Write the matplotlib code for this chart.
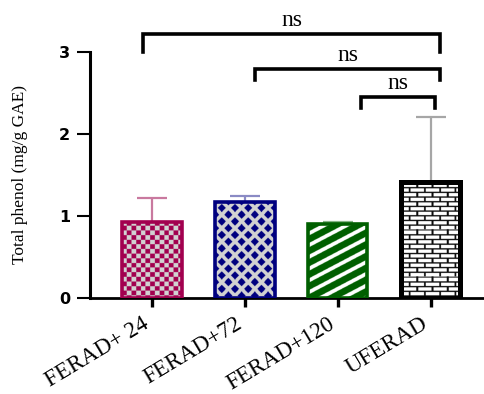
import numpy as np
import matplotlib
matplotlib.use('Agg')
import matplotlib.pyplot as plt
from matplotlib import transforms

# ---- data ----
categories = ['FERAD+ 24', 'FERAD+72', 'FERAD+120', 'UFERAD']
means = [0.93, 1.175, 0.90, 1.41]
sd_upper = [0.29, 0.07, 0.03, 0.80]
yticks = [0, 1, 2, 3]
comparisons = [(0, 3, 'ns'), (1, 3, 'ns'), (2, 3, 'ns')]

# ---- styles ----
edge_colors = ['#A2004F', '#00007F', '#005F00', '#000000']
err_colors = ['#C9799F', '#8A8AC4', '#86B386', '#A6A6A6']
patterns = ['checker', 'diamond', 'stripe', 'brick']
edge_lw = [2.6, 2.6, 2.6, 3.6]
grey = '#D2D2D2'

fig = plt.figure(figsize=(4.84, 3.94), dpi=100)
ax = fig.add_axes([90 / 484, 96 / 394, 393 / 484, 246 / 394])
ax.set_xlim(-0.667, 3.56)
ax.set_ylim(0, 3)
xpos = np.arange(len(categories))
bar_w = 0.635


def hex2rgb(h):
    h = h.lstrip('#')
    return np.array([int(h[i:i + 2], 16) / 255 for i in (0, 2, 4)])


def texture(kind, wpx, hpx, color, ss=3):
    W, H = max(int(round(wpx * ss)), 2), max(int(round(hpx * ss)), 2)
    j, i = np.meshgrid(np.arange(W) / ss, np.arange(H) / ss)
    c = hex2rgb(color)
    g = hex2rgb(grey)
    white = np.array([1.0, 1.0, 1.0])
    if kind == 'checker':
        cw, ch = 4.6, 4.6
        m = ((np.floor(j / cw) + np.floor(i / ch)) % 2) == 0
        img = np.where(m[..., None], g, c)
    elif kind == 'diamond':
        px, py = 13.0, 13.4
        t = 0.62
        dxa = np.abs((j % px) - px / 2) / (px / 2)
        dya = np.abs((i % py) - py / 2) / (py / 2)
        da = dxa + dya
        dxb = np.abs(((j + px / 2) % px) - px / 2) / (px / 2)
        dyb = np.abs(((i + py / 2) % py) - py / 2) / (py / 2)
        db = dxb + dyb
        m = np.minimum(da, db) < t
        img = np.where(m[..., None], c, g)
    elif kind == 'stripe':
        th = np.deg2rad(28)
        p = 11.7 * np.cos(th)
        u = -j * np.sin(th) - i * np.cos(th)
        m = ((u % p) / p) < 0.36
        img = np.where(m[..., None], white, c)
    else:  # brick
        rh, bw = 4.7, 15.0
        row = np.floor(i / rh)
        yin = i % rh
        off = (row % 2) * bw / 2
        xin = (j + off) % bw
        m = (yin < 1.3) | (xin < 1.8)
        img = np.where(m[..., None], np.array([0.05, 0.05, 0.05]), white)
    return img


# error bars (upper only)
for k in range(len(categories)):
    ax.errorbar(xpos[k], means[k], yerr=[[0], [sd_upper[k]]], fmt='none',
                ecolor=err_colors[k], elinewidth=1.6, capsize=11, capthick=1.6,
                zorder=1)

bars = ax.bar(xpos, means, width=bar_w, color=grey, linewidth=0, zorder=2)
for k, rect in enumerate(bars):
    x0, y0 = rect.get_x(), rect.get_y()
    x1, y1 = x0 + rect.get_width(), y0 + rect.get_height()
    p0 = ax.transData.transform((x0, y0))
    p1 = ax.transData.transform((x1, y1))
    img = texture(patterns[k], abs(p1[0] - p0[0]), abs(p1[1] - p0[1]), edge_colors[k])
    im = ax.imshow(img, extent=(x0, x1, y0, y1), aspect='auto', zorder=2.5,
                   interpolation='antialiased')
    im.set_clip_path(rect)
ax.bar(xpos, means, width=bar_w, fill=False, edgecolor=edge_colors,
       linewidth=edge_lw, zorder=3)
ax.set_xlim(-0.667, 3.56)
ax.set_ylim(0, 3)

# significance brackets
br_y = [3.22, 2.79, 2.45]
br_drop = [0.22, 0.13, 0.13]
br_dx = [(-0.10, 0.10), (0.11, 0.10), (0.25, 0.04)]
for (a, b, lab), yb, dr, (dl, drr) in zip(comparisons, br_y, br_drop, br_dx):
    xl, xr = xpos[a] + dl, xpos[b] + drr
    ax.plot([xl, xl, xr, xr], [yb - dr, yb, yb, yb - dr], color='black',
            lw=2.6, solid_joinstyle='miter', clip_on=False, zorder=4)
    ax.text((xl + xr) / 2, yb + 0.17, lab, ha='center', va='center',
            fontsize=17, family='Liberation Serif', clip_on=False)

# axes styling
for s in ['top', 'right']:
    ax.spines[s].set_visible(False)
ax.spines['left'].set_linewidth(2.2)
ax.spines['bottom'].set_linewidth(2.0)
ax.spines['left'].set_bounds(0, 3)

ax.set_yticks(yticks)
ax.set_yticklabels([str(v) for v in yticks], fontsize=11.5, fontweight='bold',
                   family='DejaVu Sans')
ax.tick_params(axis='y', length=9.4, width=1.5, pad=5)
ax.set_xticks(xpos)
ax.set_xticklabels(categories, rotation=31, ha='right', va='top',
                   rotation_mode='anchor', fontsize=16.5, family='Liberation Serif')
ax.tick_params(axis='x', length=6.5, width=2.4, pad=4.5)
off = transforms.ScaledTranslation(-10 / 100, 0, fig.dpi_scale_trans)
for lbl in ax.get_xticklabels():
    lbl.set_transform(lbl.get_transform() + off)

ax.set_ylabel('Total phenol (mg/g GAE)', fontsize=12.5, family='Liberation Serif')
ax.yaxis.set_label_coords(-0.158, 0.5)

fig.savefig('out.png', dpi=100)
